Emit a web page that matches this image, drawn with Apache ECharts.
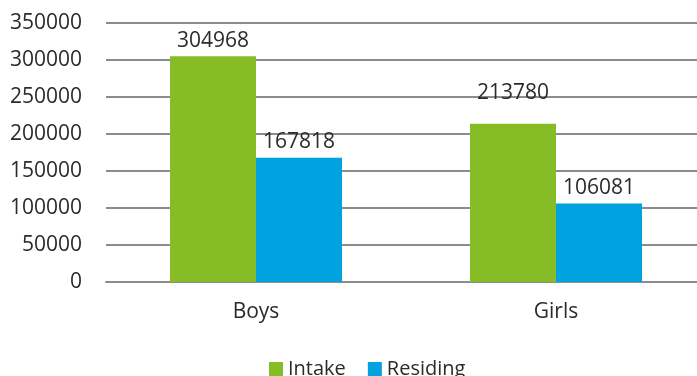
<!DOCTYPE html>
<html>
<head>
<meta charset="utf-8">
<style>
  html, body { margin: 0; padding: 0; background: #fff; overflow: hidden; }
  /* plot runs slightly past the right edge in the original */
  #chart { width: 706px; height: 376px; }
</style>
<script src="https://cdn.jsdelivr.net/npm/echarts@6/dist/echarts.min.js"></script>
</head>
<body>
<div id="chart"></div>
<script>
// 数据
var categories = ['Boys', 'Girls'];
var seriesNames = ['Intake', 'Residing'];
var intake = [304968, 213780];
var residing = [167818, 106081];

(function () {
    var myChart = echarts.init(document.getElementById('chart'));
    var font = '"Open Sans", "Noto Sans", sans-serif';

    // Girls intake label sits higher in the original
    var intakeData = intake.map(function (v, i) {
        if (i === 1) {
            return { value: v, label: { offset: [0, -15] } };
        }
        return v;
    });

    var labelStyle = {
        show: true,
        position: 'top',
        distance: 5,
        color: '#2b2b2b',
        fontFamily: font,
        fontSize: 21
    };

    var option = {
        animation: false,
        color: ['#86bc25', '#00a3e0'],
        grid: {
            left: 106,
            top: 23,
            right: 0,
            height: 259
        },
        legend: {
            data: seriesNames,
            top: 354,
            left: 264,
            itemWidth: 14,
            itemHeight: 14,
            itemGap: 22,
            icon: 'rect',
            textStyle: {
                color: '#2b2b2b',
                fontFamily: font,
                fontSize: 20
            }
        },
        xAxis: {
            type: 'category',
            data: categories,
            axisTick: { show: false },
            axisLine: { show: true, lineStyle: { color: '#8c8c8c', width: 2 } },
            axisLabel: {
                color: '#2b2b2b',
                fontFamily: font,
                fontSize: 21,
                margin: 20
            }
        },
        yAxis: {
            type: 'value',
            min: 0,
            max: 350000,
            interval: 50000,
            axisLine: { show: false },
            axisTick: { show: false },
            axisLabel: {
                color: '#2b2b2b',
                fontFamily: font,
                fontSize: 21,
                margin: 24,
                formatter: function (v) { return String(v); }
            },
            splitLine: {
                lineStyle: { color: '#8c8c8c', width: 2 }
            }
        },
        series: [
            {
                name: seriesNames[0],
                type: 'bar',
                barWidth: 86,
                barGap: '0%',
                data: intakeData,
                label: labelStyle
            },
            {
                name: seriesNames[1],
                type: 'bar',
                barWidth: 86,
                barGap: '0%',
                data: residing,
                label: labelStyle
            }
        ]
    };
    myChart.setOption(option);

    window.addEventListener('resize', function () {
        myChart.resize();
    });
})();
</script>
</body>
</html>
